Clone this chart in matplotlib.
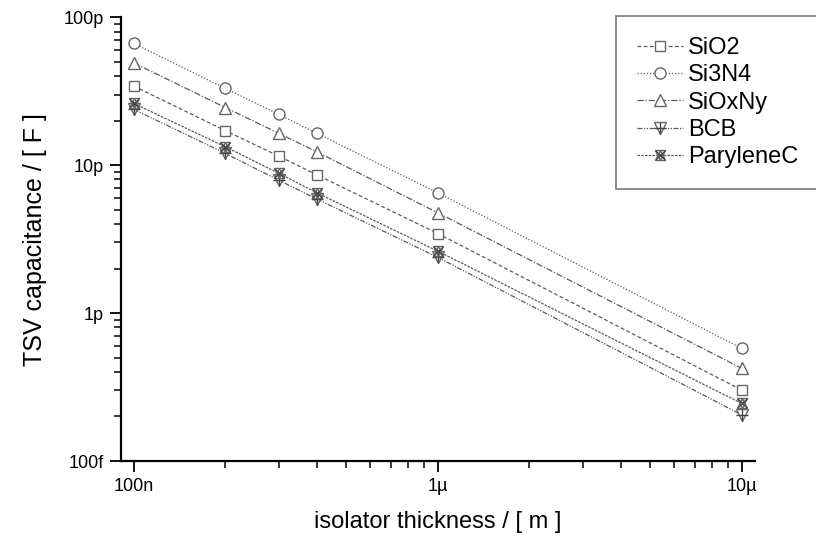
import matplotlib
matplotlib.use('Agg')
import matplotlib.pyplot as plt
from matplotlib.ticker import EngFormatter, FixedLocator, LogLocator, NullFormatter
from matplotlib.legend_handler import HandlerTuple

# isolator thickness [m] and TSV capacitance [pF]
thickness = [100e-9, 200e-9, 300e-9, 400e-9, 1e-6, 10e-6]
sio2 = [34.2, 17.1, 11.5, 8.6, 3.45, 0.302]
si3n4 = [66.4, 33.0, 22.0, 16.4, 6.50, 0.577]
sioxny = [49.1, 24.5, 16.4, 12.3, 4.76, 0.423]
bcb = [23.8, 12.0, 7.9, 5.9, 2.38, 0.205]
parylene = [26.1, 13.3, 8.8, 6.5, 2.62, 0.245]

names = ['SiO2', 'Si3N4', 'SiOxNy', 'BCB', 'ParyleneC']
x_ticks = [1e-7, 1e-6, 1e-5]
y_ticks = [1e-13, 1e-12, 1e-11, 1e-10]

plt.rcParams['font.family'] = ['Liberation Sans', 'DejaVu Sans']

LC = '#5a5a5a'
MC = '#666666'


def main():
    fig = plt.figure(figsize=(8.16, 5.37), dpi=100)
    ax = fig.add_axes([0.148, 0.1415, 0.777, 0.8265])

    pf = lambda v: [c * 1e-12 for c in v]
    lw = 0.9
    mk = dict(mfc='white', mec=MC, mew=1.0, ms=8)

    handles = []
    h, = ax.plot(thickness, pf(sio2), ls=(0, (3, 2)), color=LC, lw=lw, marker='s', **dict(mk, ms=7.5))
    handles.append(h)
    h, = ax.plot(thickness, pf(si3n4), ls=(0, (1, 1.5)), color=LC, lw=lw, marker='o', **mk)
    handles.append(h)
    h, = ax.plot(thickness, pf(sioxny), ls=(0, (5, 1.5, 1, 1.5)), color=LC, lw=lw, marker='^', **dict(mk, ms=9))
    handles.append(h)
    # BCB: open down triangle with a cross on top
    h1, = ax.plot(thickness, pf(bcb), ls=(0, (4, 1.2, 1, 1.2, 1, 1.2)), color=LC, lw=lw, marker='v', **mk)
    h2, = ax.plot(thickness, pf(bcb), ls='none', marker='+', mec='#444444', mew=1.0, ms=8)
    handles.append((h1, h2))
    # ParyleneC: crossed hexagram
    h1, = ax.plot(thickness, pf(parylene), ls=(0, (2, 1)), color=LC, lw=lw, marker='^', **dict(mk, ms=7, mfc='none'))
    h2, = ax.plot(thickness, pf(parylene), ls='none', marker='v', mfc='none', mec=MC, mew=1.0, ms=7)
    h3, = ax.plot(thickness, pf(parylene), ls='none', marker='x', mec='#444444', mew=0.9, ms=7)
    handles.append((h1, h2, h3))

    ax.set_xscale('log')
    ax.set_yscale('log')
    ax.set_xlim(10 ** -7.043, 10 ** -4.957)
    ax.set_ylim(1e-13, 1e-10)

    fmt = EngFormatter(unit='', places=0, sep='')
    ax.xaxis.set_major_locator(FixedLocator(x_ticks))
    ax.yaxis.set_major_locator(FixedLocator(y_ticks))
    ax.xaxis.set_major_formatter(fmt)
    ax.yaxis.set_major_formatter(fmt)
    ax.xaxis.set_minor_locator(LogLocator(base=10, subs=range(2, 10), numticks=20))
    ax.yaxis.set_minor_locator(LogLocator(base=10, subs=range(2, 10), numticks=20))
    ax.xaxis.set_minor_formatter(NullFormatter())
    ax.yaxis.set_minor_formatter(NullFormatter())

    for s in ['top', 'right']:
        ax.spines[s].set_visible(False)
    for s in ['left', 'bottom']:
        ax.spines[s].set_linewidth(1.6)
    ax.tick_params(which='major', direction='out', length=8, width=1.3, labelsize=13, pad=4)
    ax.tick_params(which='minor', direction='out', length=5, width=1.1)

    ax.set_xlabel('isolator thickness / [ m ]', fontsize=17, labelpad=12)
    ax.set_ylabel('TSV capacitance / [ F ]', fontsize=18, labelpad=12)

    # legend box runs off the right edge like in the original
    leg = ax.legend(handles, names, handler_map={tuple: HandlerTuple(ndivide=1, pad=0)},
                    loc='upper left', bbox_to_anchor=(616 / 816, 1 - 188 / 537, 0.3, 172 / 537),
                    bbox_transform=fig.transFigure, mode='expand', fontsize=17, frameon=True,
                    fancybox=False, handlelength=1.95, handletextpad=0.2, labelspacing=0.22,
                    borderpad=0.9, borderaxespad=0)
    leg.get_frame().set_edgecolor('#555555')
    leg.get_frame().set_linewidth(1.2)

    fig.savefig('out.png', dpi=100)


main()
